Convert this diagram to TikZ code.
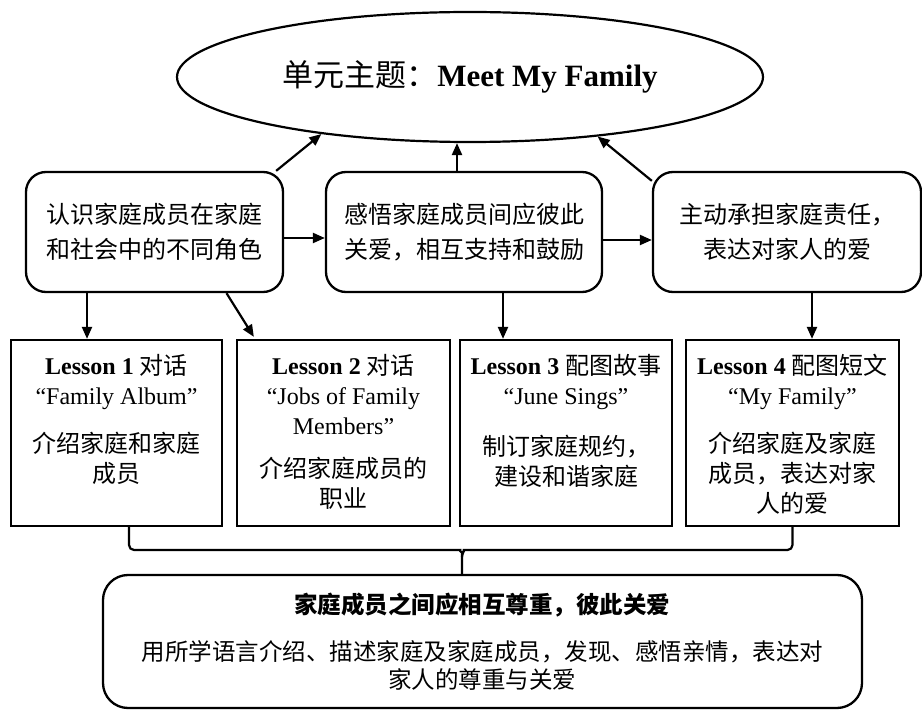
\documentclass[tikz,border=0pt]{standalone}
\usepackage{fontspec}
\setmainfont{Liberation Serif}
\newfontfamily\cjk{Noto Sans CJK SC}
\usetikzlibrary{arrows.meta,shapes.geometric}
\newcommand{\zh}[1]{{\cjk #1}}
\begin{document}
\begin{tikzpicture}[x=1pt,y=-1pt,
  rbox/.style={draw, line width=2.3pt, rounded corners=20pt, inner sep=0pt, align=center,
    font=\fontsize{24}{35}\selectfont\cjk, minimum height=120pt},
  lbox/.style={draw, line width=2.3pt, inner sep=0pt, minimum height=186pt},
  ltxt/.style={anchor=north, align=center, inner sep=0pt, font=\fontsize{24}{30}\selectfont},
  arr/.style={-{Triangle[length=12pt,width=10pt]}, line width=2.2pt},
  brk/.style={line width=2.2pt, rounded corners=5pt},
]
\useasboundingbox (0,0) rectangle (922,711);

% theme ellipse
\node[ellipse, draw, line width=2.2pt, minimum width=586pt, minimum height=130pt, inner sep=0pt,
  font=\fontsize{31}{36}\selectfont] (top) at (470,77) {\zh{单元主题：}\textbf{Meet My Family}};

% goal boxes
\node[rbox, minimum width=257pt] (a) at (154.5,232) {认识家庭成员在家庭\\和社会中的不同角色};
\node[rbox, minimum width=276pt] (b) at (464,232) {感悟家庭成员间应彼此\\关爱，相互支持和鼓励};
\node[rbox, minimum width=268pt] (c) at (787,232) {主动承担家庭责任，\\表达对家人的爱};

% lesson boxes
\node[lbox, minimum width=211pt] (l1) at (116.5,433) {};
\node[lbox, minimum width=213pt] (l2) at (343.5,433) {};
\node[lbox, minimum width=212pt] (l3) at (566,433) {};
\node[lbox, minimum width=213pt] (l4) at (792.5,433) {};

\node[ltxt] (t1) at ([yshift=-15pt]l1.north) {\rule{0pt}{20pt}\textbf{Lesson 1} \zh{对话}\\“Family Album”\\[18pt]\zh{介绍家庭和家庭}\\\zh{成员}};
\node[ltxt] (t2) at ([yshift=-15pt]l2.north) {\rule{0pt}{20pt}\textbf{Lesson 2} \zh{对话}\\“Jobs of Family\\Members”\\[13pt]\zh{介绍家庭成员的}\\\zh{职业}};
\node[ltxt] (t3) at ([yshift=-15pt]l3.north) {\rule{0pt}{20pt}\textbf{Lesson 3} \zh{配图故事}\\“June Sings”\\[21pt]\zh{制订家庭规约，}\\\zh{建设和谐家庭}};
\node[ltxt] (t4) at ([yshift=-15pt]l4.north) {\rule{0pt}{20pt}\textbf{Lesson 4} \zh{配图短文}\\“My Family”\\[18pt]\zh{介绍家庭及家庭}\\\zh{成员，表达对家}\\\zh{人的爱}};

% summary box
\node[draw, line width=2.3pt, rounded corners=25pt, minimum width=759pt, minimum height=133pt,
  inner sep=0pt, align=center, font=\fontsize{23.5}{28}\selectfont\cjk] (bot) at (482.5,641.5)
  {{\bfseries 家庭成员之间应相互尊重，彼此关爱}\\[19pt]用所学语言介绍、描述家庭及家庭成员，发现、感悟亲情，表达对\\家人的尊重与关爱};

% arrows up to theme
\draw[arr] ([xshift=-8pt]a.north east) -- (top.201);
\draw[arr] ([xshift=-7pt]b.north) -- ([xshift=-7pt]b.north |- top.south);
\draw[arr] ([yshift=-10pt]c.north west) -- (top.335);

% horizontal arrows
\draw[arr] ([yshift=-6pt]a.east) -- ([yshift=-6pt]b.west);
\draw[arr] ([yshift=-8pt]b.east) -- ([yshift=-8pt]c.west);

% arrows down to lessons
\draw[arr] ([xshift=-67.5pt]a.south) -- ([xshift=-67.5pt]a.south |- l1.north);
\draw[arr] ([xshift=72pt]a.south) -- ([xshift=18pt,yshift=2pt]l2.north west);
\draw[arr] ([xshift=39pt]b.south) -- ([xshift=39pt]b.south |- l3.north);
\draw[arr] ([xshift=25pt]c.south) -- ([xshift=25pt]c.south |- l4.north);

% bracket
\coordinate (jl) at (455,550);
\coordinate (jr) at (469,550);
\coordinate (jm) at (462,557);
\draw[brk] ([xshift=12.5pt]l1.south) |- (jl) to[out=0,in=90] (jm) -- (jm |- bot.north);
\draw[brk] (l4.south) |- (jr) to[out=180,in=90] (jm);
\end{tikzpicture}
\end{document}
